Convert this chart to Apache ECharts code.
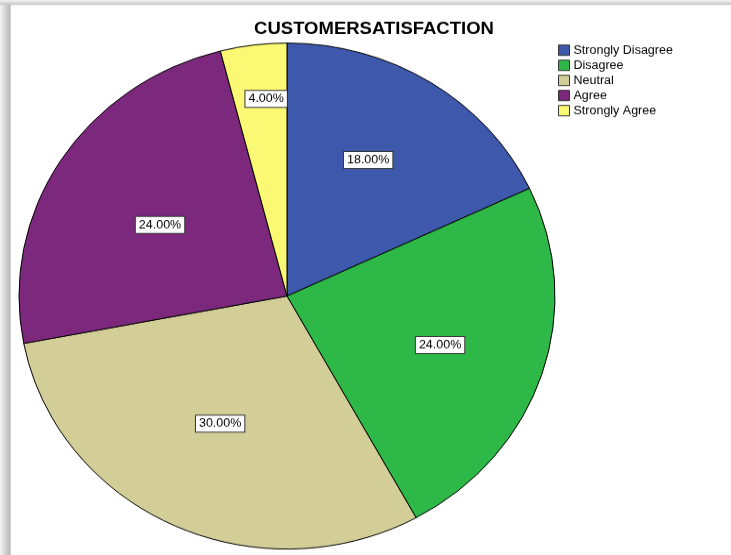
<!DOCTYPE html>
<html>
<head>
<meta charset="utf-8">
<title>CUSTOMERSATISFACTION</title>
<script src="https://cdn.jsdelivr.net/npm/echarts@6/dist/echarts.min.js"></script>
<style>
  html, body { margin: 0; padding: 0; width: 731px; height: 555px; overflow: hidden; background: #fff; }
  /* the pie is drawn slightly flattened, so the whole canvas is squeezed vertically */
  #chart { width: 731px; height: 588px; transform: scaleY(0.944); transform-origin: 0 0; }
</style>
</head>
<body>
<div id="chart"></div>
<script>
// ---- data ----
const titleText = 'CUSTOMERSATISFACTION';
const categories = ['Strongly Disagree', 'Disagree', 'Neutral', 'Agree', 'Strongly Agree'];
const percents = [18, 24, 30, 24, 4];

// ---- styling ----
const sliceColors = ['#3E58AC', '#2EB848', '#D3CE97', '#7C287D', '#FBF873'];
const FONT = '"Liberation Sans", Arial, sans-serif';
const PIE_CX = 287, PIE_CY = 313.6, PIE_R = 268;
// label placement: fraction of the radius and angular nudge (degrees) from the slice middle
const labelRadiusRatio = [0.617, 0.603, 0.563, 0.551, 0.783];
const labelAngleNudge = [-3, 0.7, 1.1, -1.7, 1.5];

// middle angle of each slice, measured clockwise from 12 o'clock
const total = percents.reduce((a, b) => a + b, 0);
const midAngles = [];
let acc = 0;
percents.forEach(v => {
  midAngles.push((acc + v / 2) / total * 360);
  acc += v;
});

const chart = echarts.init(document.getElementById('chart'), null, { renderer: 'canvas' });

chart.setOption({
  animation: false,
  backgroundColor: '#ffffff',
  graphic: [
    {
      type: 'rect', left: 0, top: 0, silent: true, z: -1,
      shape: { width: 11, height: 600 },
      style: {
        fill: new echarts.graphic.LinearGradient(0, 0, 1, 0, [
          { offset: 0, color: '#f4f4f4' },
          { offset: 0.85, color: '#bdbdbd' },
          { offset: 1, color: '#d8d8d8' }
        ])
      }
    },
    {
      type: 'rect', left: 0, top: 0, silent: true, z: -1,
      shape: { width: 731, height: 5.3 },
      style: {
        fill: new echarts.graphic.LinearGradient(0, 0, 0, 1, [
          { offset: 0, color: '#f4f4f4' },
          { offset: 1, color: '#c2c2c2' }
        ])
      }
    }
  ],
  title: {
    text: titleText,
    left: 374,
    top: 21,
    textAlign: 'center',
    padding: 0,
    textStyle: { fontFamily: FONT, fontSize: 18.5, fontWeight: 'bold', color: '#000' }
  },
  legend: {
    orient: 'vertical',
    left: 558,
    top: 46.7,
    padding: 0,
    itemWidth: 11,
    itemHeight: 11,
    itemGap: 3,
    icon: 'rect',
    data: categories,
    itemStyle: { borderColor: '#333', borderWidth: 1 },
    textStyle: { fontFamily: FONT, fontSize: 12.5, color: '#000', padding: [0, 0, 0, -1] }
  },
  series: [{
    type: 'pie',
    center: [PIE_CX, PIE_CY],
    radius: PIE_R,
    startAngle: 90,
    clockwise: true,
    avoidLabelOverlap: false,
    silent: true,
    data: categories.map((name, i) => ({
      name: name,
      value: percents[i],
      itemStyle: { color: sliceColors[i] }
    })),
    itemStyle: { borderColor: '#000', borderWidth: 1 },
    label: {
      show: true,
      position: 'inside',
      formatter: p => p.value.toFixed(2) + '%',
      fontFamily: FONT,
      fontSize: 12.5,
      color: '#000',
      backgroundColor: '#ffffff',
      borderColor: '#333',
      borderWidth: 1,
      padding: [2, 3]
    },
    labelLine: { show: false },
    labelLayout: function (params) {
      const i = params.dataIndex;
      const a = (midAngles[i] + labelAngleNudge[i]) * Math.PI / 180;
      const r = PIE_R * labelRadiusRatio[i];
      return {
        x: PIE_CX + r * Math.sin(a),
        y: PIE_CY - r * Math.cos(a)
      };
    }
  }]
});
</script>
</body>
</html>
